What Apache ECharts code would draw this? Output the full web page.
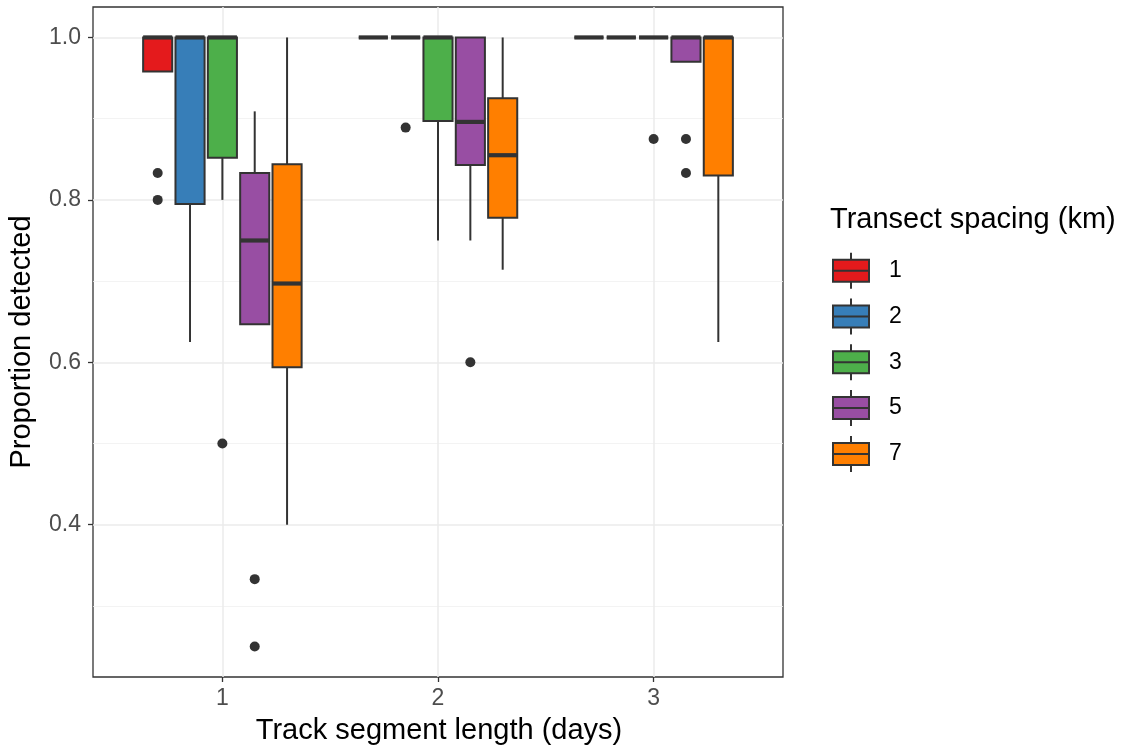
<!DOCTYPE html>
<html>
<head>
<meta charset="utf-8">
<script src="https://cdn.jsdelivr.net/npm/echarts@6/dist/echarts.min.js"></script>
<style>
html,body{margin:0;padding:0;background:#fff;}
#chart{width:1126px;height:751px;}
</style>
</head>
<body>
<div id="chart"></div>
<script>
// ---- data ----
const categories = [1, 2, 3];                       // track segment length (days)
const spacingNames = ['1', '2', '3', '5', '7'];      // transect spacing (km)
const spacingColors = ['#E41A1C', '#377EB8', '#4DAF4A', '#984EA3', '#FF7F00'];
// box statistics per segment length: [lower whisker, Q1, median, Q3, upper whisker]
const box1km = [[0.958, 0.958, 1, 1, 1], [1, 1, 1, 1, 1], [1, 1, 1, 1, 1]];
const box2km = [[0.625, 0.795, 1, 1, 1], [1, 1, 1, 1, 1], [1, 1, 1, 1, 1]];
const box3km = [[0.8, 0.852, 1, 1, 1], [0.75, 0.897, 1, 1, 1], [1, 1, 1, 1, 1]];
const box5km = [[0.647, 0.647, 0.75, 0.833, 0.909], [0.75, 0.843, 0.896, 1, 1], [0.97, 0.97, 1, 1, 1]];
const box7km = [[0.4, 0.594, 0.697, 0.844, 1], [0.714, 0.778, 0.855, 0.925, 1], [0.625, 0.83, 1, 1, 1]];
// outliers per segment length
const out1km = [[0.833, 0.8], [], []];
const out2km = [[], [0.889], []];
const out3km = [[0.5], [], [0.875]];
const out5km = [[0.333, 0.25], [0.6], [0.875, 0.833]];
const out7km = [[], [], []];
const yTickValues = [0.4, 0.6, 0.8, 1.0];
const yMinorValues = [0.3, 0.5, 0.7, 0.9];
const xTickValues = [1, 2, 3];

const boxStats = [box1km, box2km, box3km, box5km, box7km];
const outliers = [out1km, out2km, out3km, out5km, out7km];

// ---- layout constants ----
const nGroups = spacingNames.length;
const dodgeWidth = 0.75;
const slot = dodgeWidth / nGroups;
const boxWidth = slot * 0.9;
const dark = '#333333';
const FONT = '"Liberation Sans", Arial, Helvetica, sans-serif';

function offsetOf(k) { return (k - (nGroups - 1) / 2) * slot; }

function makeBoxRender(k, color) {
  return function (params, api) {
    const x = api.value(0) + offsetOf(k);
    const half = api.size([boxWidth, 0])[0] / 2;
    const pMin = api.coord([x, api.value(1)]);
    const pQ1 = api.coord([x, api.value(2)]);
    const pMed = api.coord([x, api.value(3)]);
    const pQ3 = api.coord([x, api.value(4)]);
    const pMax = api.coord([x, api.value(5)]);
    const cx = pMed[0];
    const ls = { stroke: dark, lineWidth: 2, fill: null };
    return {
      type: 'group',
      children: [
        { type: 'line', shape: { x1: cx, y1: pMax[1], x2: cx, y2: pQ3[1] }, style: ls },
        { type: 'line', shape: { x1: cx, y1: pQ1[1], x2: cx, y2: pMin[1] }, style: ls },
        { type: 'rect', shape: { x: cx - half, y: pQ3[1], width: 2 * half, height: pQ1[1] - pQ3[1] },
          style: { fill: color, stroke: dark, lineWidth: 2 } },
        { type: 'line', shape: { x1: cx - half, y1: pMed[1], x2: cx + half, y2: pMed[1] },
          style: { stroke: dark, lineWidth: 4.2, fill: null } }
      ]
    };
  };
}

const series = [];
spacingNames.forEach(function (name, k) {
  series.push({
    type: 'custom',
    name: name,
    renderItem: makeBoxRender(k, spacingColors[k]),
    encode: { x: 0, y: [1, 2, 3, 4, 5] },
    data: categories.map(function (c, i) { return [c].concat(boxStats[k][i]); }),
    z: 3,
    silent: true
  });
  const pts = [];
  categories.forEach(function (c, i) {
    outliers[k][i].forEach(function (v) { pts.push([c + offsetOf(k), v]); });
  });
  series.push({
    type: 'scatter',
    name: name + ' outliers',
    data: pts,
    symbol: 'circle',
    symbolSize: 10,
    itemStyle: { color: dark, opacity: 1 },
    z: 4,
    silent: true
  });
});

// ---- legend drawn as graphics ----
const legendX = 830, legendTitleY = 220, keyY0 = 270.7, keyStep = 45.8;
const graphics = [
  { type: 'text', left: null, x: legendX, y: legendTitleY,
    style: { text: 'Transect spacing (km)', font: '29px ' + FONT, fill: '#000',
      align: 'left', verticalAlign: 'middle', textAlign: 'left', textVerticalAlign: 'middle' } },
  { type: 'text', x: 439, y: 731,
    style: { text: 'Track segment length (days)', font: '29px ' + FONT, fill: '#000',
      align: 'center', verticalAlign: 'middle', textAlign: 'center', textVerticalAlign: 'middle' } },
  { type: 'text', x: 22, y: 342, rotation: Math.PI / 2,
    style: { text: 'Proportion detected', font: '29px ' + FONT, fill: '#000',
      align: 'center', verticalAlign: 'middle', textAlign: 'center', textVerticalAlign: 'middle' } }
];
spacingNames.forEach(function (name, k) {
  const cy = keyY0 + k * keyStep;
  const kx = 833, kw = 36, kh = 22;
  graphics.push({ type: 'line', shape: { x1: kx + kw / 2, y1: cy - 18, x2: kx + kw / 2, y2: cy + 18 },
    style: { stroke: dark, lineWidth: 2 } });
  graphics.push({ type: 'rect', shape: { x: kx, y: cy - kh / 2, width: kw, height: kh },
    style: { fill: spacingColors[k], stroke: dark, lineWidth: 2 } });
  graphics.push({ type: 'line', shape: { x1: kx, y1: cy, x2: kx + kw, y2: cy },
    style: { stroke: dark, lineWidth: 2 } });
  graphics.push({ type: 'text', x: 889, y: cy,
    style: { text: name, font: '23px ' + FONT, fill: '#000',
      align: 'left', verticalAlign: 'middle', textAlign: 'left', textVerticalAlign: 'middle' } });
});

const chart = echarts.init(document.getElementById('chart'), null, { renderer: 'canvas' });
chart.setOption({
  animation: false,
  backgroundColor: '#ffffff',
  grid: { left: 93, top: 7, right: 343, bottom: 74, show: true, borderColor: dark, borderWidth: 1.3, backgroundColor: 'transparent' },
  xAxis: {
    type: 'value', min: 0.4, max: 3.6,
    axisLine: { show: false },
    axisTick: { show: true, customValues: xTickValues, length: 5, lineStyle: { color: dark, width: 1.3 } },
    axisLabel: { show: true, customValues: xTickValues, margin: 10, color: '#4D4D4D', fontSize: 23, fontFamily: FONT,
      formatter: function (v) { return String(Math.round(v)); } },
    splitLine: { show: true, lineStyle: { color: '#EBEBEB', width: 1.5 } }
  },
  yAxis: [{
    type: 'value', min: 0.2125, max: 1.0375,
    axisLine: { show: false },
    axisTick: { show: true, customValues: yTickValues, length: 5, lineStyle: { color: dark, width: 1.3 } },
    axisLabel: { show: true, customValues: yTickValues, margin: 12, color: '#4D4D4D', fontSize: 23, fontFamily: FONT,
      formatter: function (v) { return v.toFixed(1); } },
    splitLine: { show: true, lineStyle: { color: '#EBEBEB', width: 1.5 } }
  }, {
    type: 'value', min: 0.2125, max: 1.0375, position: 'left',
    axisLine: { show: false },
    axisTick: { show: false, customValues: yMinorValues },
    axisLabel: { show: false, customValues: yMinorValues },
    splitLine: { show: true, lineStyle: { color: '#F0F0F0', width: 0.8 } }
  }],
  series: series,
  graphic: graphics
});
</script>
</body>
</html>
